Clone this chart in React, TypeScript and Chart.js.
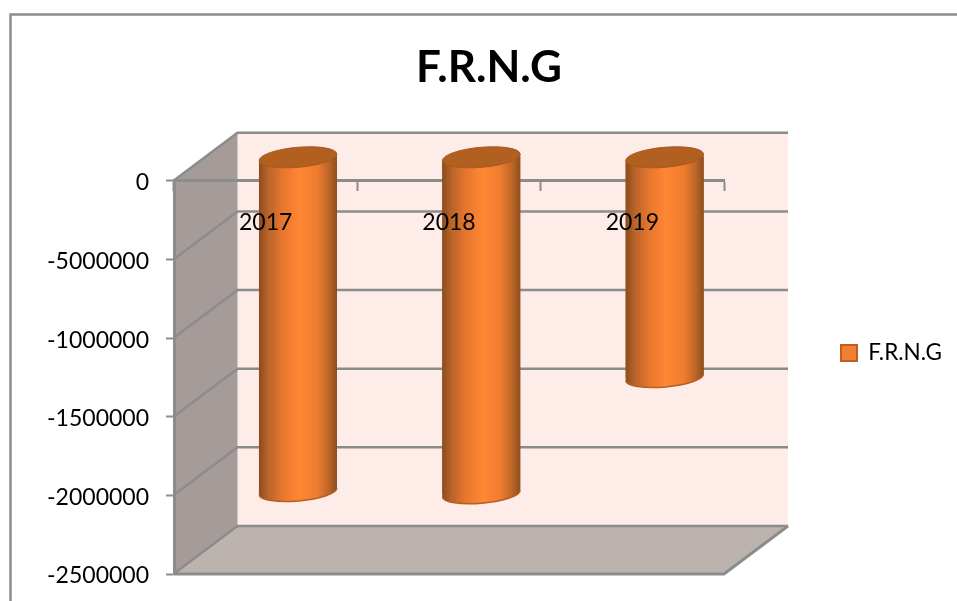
import React, { useEffect, useRef } from "react";
import { Chart, registerables } from "chart.js";

Chart.register(...registerables);

const categories = ["2017", "2018", "2019"];
const seriesName = "F.R.N.G";
const frngValues = [-2128000, -2142000, -1403000];
const yTickLabels = ["0", "-5000000", "-1000000", "-1500000", "-2000000", "-2500000"];
const titleText = "F.R.N.G";

const FONT = "Lato, Carlito, Calibri, sans-serif";
const LINE = "#8C8C8C";
const WALL = "#FDECE8";
const SIDE = "#A59B98";
const FLOOR = "#BDB3AE";
const DEPTH_X = 64;
const DEPTH_Y = -48;
const BAR_DX = 32.3;
const BAR_DY = -24;
const BAR_W = 78;
const TILT = (-5 * Math.PI) / 180;
const RY = 9.5;
const SKEW = 3.4;

function barGradient(ctx: CanvasRenderingContext2D, cx: number) {
  const g = ctx.createLinearGradient(cx - BAR_W / 2, 0, cx + BAR_W / 2, 0);
  g.addColorStop(0, "#8C4C1D");
  g.addColorStop(0.12, "#B9642A");
  g.addColorStop(0.3, "#E6762E");
  g.addColorStop(0.52, "#FF8733");
  g.addColorStop(0.75, "#EE7C2F");
  g.addColorStop(0.9, "#BB6427");
  g.addColorStop(1, "#8E4E1E");
  return g;
}

function bodyPath(ctx: CanvasRenderingContext2D, b: any) {
  const l = b.x - BAR_W / 2;
  const r = b.x + BAR_W / 2;
  ctx.moveTo(l, b.base + SKEW);
  ctx.lineTo(r, b.base - SKEW);
  ctx.lineTo(r, b.y - SKEW);
  ctx.lineTo(l, b.y + SKEW);
  ctx.closePath();
}

const cylinderPlugin = {
  id: "cylinder3d",
  afterLayout(chart: any) {
    if (chart.titleBlock) {
      chart.titleBlock.left = 0;
      chart.titleBlock.right = 978;
    }
    if (chart.legend) {
      const h = chart.legend.bottom - chart.legend.top;
      const w = chart.legend.right - chart.legend.left;
      chart.legend.left = 831;
      chart.legend.right = 831 + w;
      chart.legend.top = 353 - h / 2;
      chart.legend.bottom = 353 + h / 2;
    }
  },
  beforeDraw(chart: any) {
    const { ctx, chartArea: a, scales } = chart;
    const y = scales.y;
    const L = a.left - 0.5;
    const R = a.right;
    const T = a.top - 0.5;
    const B = a.bottom;
    ctx.save();
    // outer frame
    ctx.strokeStyle = LINE;
    ctx.lineWidth = 2.5;
    ctx.beginPath();
    ctx.moveTo(10.5, 601);
    ctx.lineTo(10.5, 14.5);
    ctx.lineTo(957, 14.5);
    ctx.stroke();
    // back wall
    ctx.fillStyle = WALL;
    ctx.fillRect(L + DEPTH_X, T + DEPTH_Y, R - L, B - T);
    // side wall
    ctx.fillStyle = SIDE;
    ctx.beginPath();
    ctx.moveTo(L, T);
    ctx.lineTo(L + DEPTH_X, T + DEPTH_Y);
    ctx.lineTo(L + DEPTH_X, B + DEPTH_Y);
    ctx.lineTo(L, B);
    ctx.closePath();
    ctx.fill();
    // floor
    ctx.fillStyle = FLOOR;
    ctx.beginPath();
    ctx.moveTo(L, B);
    ctx.lineTo(L + DEPTH_X, B + DEPTH_Y);
    ctx.lineTo(R + DEPTH_X, B + DEPTH_Y);
    ctx.lineTo(R, B);
    ctx.closePath();
    ctx.fill();
    // wall grid from the value scale
    ctx.strokeStyle = LINE;
    ctx.lineWidth = 2.5;
    y.ticks.forEach((t: any) => {
      const py = y.getPixelForValue(t.value);
      ctx.beginPath();
      ctx.moveTo(L, py);
      ctx.lineTo(L + DEPTH_X, py + DEPTH_Y);
      ctx.lineTo(R + DEPTH_X, py + DEPTH_Y);
      ctx.stroke();
    });
    // floor edges
    ctx.lineWidth = 3;
    ctx.beginPath();
    ctx.moveTo(L, B);
    ctx.lineTo(R, B);
    ctx.lineTo(R + DEPTH_X, B + DEPTH_Y);
    ctx.stroke();
    ctx.restore();
  },
  beforeDatasetsDraw(chart: any) {
    const { ctx } = chart;
    const bars = chart.getDatasetMeta(0).data;
    ctx.save();
    ctx.translate(BAR_DX, BAR_DY);
    // lower ends of the cylinders, joined to the tilted body
    bars.forEach((b: any) => {
      ctx.fillStyle = barGradient(ctx, b.x);
      ctx.beginPath();
      bodyPath(ctx, b);
      ctx.fill();
      ctx.beginPath();
      ctx.ellipse(b.x, b.y, BAR_W / 2, RY, TILT, 0, Math.PI * 2);
      ctx.fill();
      ctx.beginPath();
      ctx.ellipse(b.x, b.y, BAR_W / 2, RY, TILT, 0, Math.PI);
      ctx.strokeStyle = "#B85F20";
      ctx.lineWidth = 1.5;
      ctx.stroke();
    });
    // native bars stay inside the tilted body
    ctx.beginPath();
    bars.forEach((b: any) => bodyPath(ctx, b));
    ctx.clip();
  },
  afterDatasetsDraw(chart: any) {
    const { ctx } = chart;
    ctx.restore();
    const bars = chart.getDatasetMeta(0).data;
    ctx.save();
    ctx.translate(BAR_DX, BAR_DY);
    bars.forEach((b: any) => {
      ctx.beginPath();
      ctx.ellipse(b.x, b.base, BAR_W / 2, RY + 0.5, TILT, 0, Math.PI * 2);
      ctx.fillStyle = "#B2601F";
      ctx.fill();
      ctx.strokeStyle = "#A9591F";
      ctx.lineWidth = 1;
      ctx.stroke();
    });
    ctx.restore();
  },
};

export default function App() {
  const ref = useRef<HTMLCanvasElement | null>(null);
  useEffect(() => {
    if (!ref.current) return;
    const chart = new Chart(ref.current, {
      type: "bar",
      data: {
        labels: categories,
        datasets: [
          {
            label: seriesName,
            data: frngValues,
            barThickness: BAR_W,
            backgroundColor: (c: any) =>
              barGradient(c.chart.ctx, c.chart.scales.x.getPixelForValue(c.dataIndex)),
          },
        ],
      },
      options: {
        animation: false,
        responsive: false,
        layout: { padding: { left: 0, right: 233, top: 0, bottom: 27 } },
        scales: {
          x: {
            position: { y: 0 },
            offset: true,
            grid: {
              offset: true,
              drawOnChartArea: false,
              tickLength: 9,
              tickColor: LINE,
              tickWidth: 2,
            },
            border: { color: LINE, width: 3 },
            ticks: {
              z: 1,
              color: "#000",
              padding: 19,
              maxRotation: 0,
              font: { family: FONT, size: 23 },
            },
          },
          y: {
            min: -2500000,
            max: 0,
            afterFit: (s: any) => {
              s.width = 174;
              s.paddingTop = 0;
              s.paddingBottom = 0;
            },
            grid: {
              drawOnChartArea: false,
              tickLength: 8,
              tickColor: LINE,
              tickWidth: 2,
            },
            border: { color: LINE, width: 3 },
            ticks: {
              stepSize: 500000,
              color: "#000",
              padding: 17,
              labelOffset: 2,
              font: { family: FONT, size: 23 },
              callback: (_v: any, i: number, all: any[]) => yTickLabels[all.length - 1 - i],
            },
          },
        },
        plugins: {
          tooltip: { enabled: false },
          title: {
            display: true,
            text: titleText,
            color: "#000",
            font: { family: FONT, size: 44, weight: "bold" },
            padding: { top: 41, bottom: 87 },
          },
          legend: {
            display: true,
            position: "chartArea",
            labels: {
              boxWidth: 16,
              boxHeight: 16,
              padding: 10,
              color: "#000",
              font: { family: FONT, size: 22.5 },
              generateLabels: () => [
                {
                  text: seriesName,
                  fillStyle: "#F07F2F",
                  strokeStyle: "#BE5F22",
                  lineWidth: 2,
                  datasetIndex: 0,
                },
              ],
            },
          },
        },
      } as any,
      plugins: [cylinderPlugin],
    });
    return () => chart.destroy();
  }, []);
  return (
    <canvas
      ref={ref}
      width={957}
      height={601}
      style={{ position: "fixed", left: 0, top: 0, width: 957, height: 601, display: "block", background: "#fff" }}
    />
  );
}
